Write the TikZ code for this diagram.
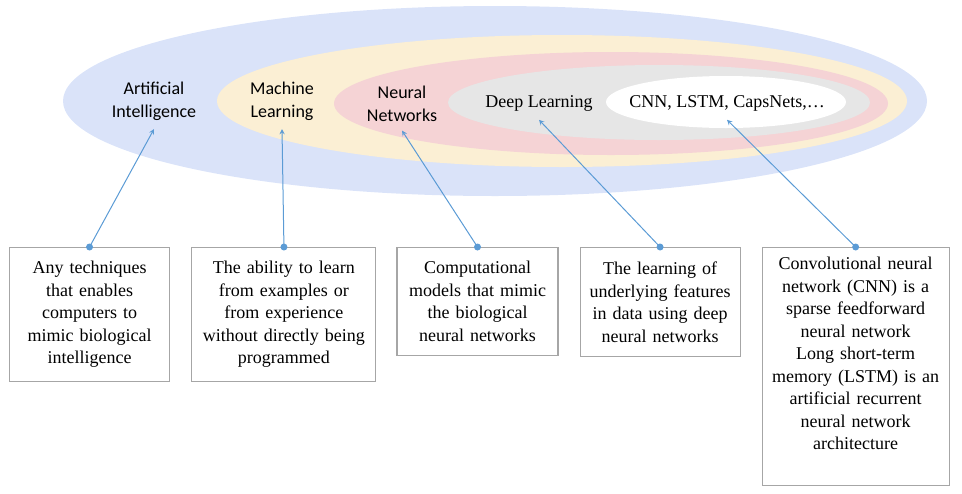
\documentclass[tikz,border=0pt]{standalone}
\usepackage{fontspec}
\setmainfont{Liberation Serif}
\newfontfamily\labelsans{Carlito}
\usetikzlibrary{arrows,positioning}
\tikzset{>=stealth}
\definecolor{aiblue}{HTML}{DAE3F9}
\definecolor{mlyellow}{HTML}{FBEFD4}
\definecolor{nnpink}{HTML}{F5D3D5}
\definecolor{dlgrey}{HTML}{E6E6E6}
\definecolor{linkblue}{HTML}{5B9BD5}
\definecolor{boxgrey}{HTML}{A6A6A6}
\tikzset{
  area/.style={align=center, inner sep=6.5pt, font=\labelsans\fontsize{13.5}{17}\selectfont},
  serifarea/.style={area, font=\fontsize{13.5}{17}\selectfont},
  textbox/.style 2 args={draw=boxgrey, line width=0.8pt, align=center, inner xsep=2pt,
    text width=#1, minimum height=#2, anchor=north west, font=\fontsize{13.5}{16.9}\selectfont},
  link/.style={->, draw=linkblue, line width=0.75pt},
}

\begin{document}
\begin{tikzpicture}[x=0.75pt,y=-0.75pt]
\useasboundingbox (0,0) rectangle (962,493);

\fill[aiblue] (495,101) ellipse [x radius=432, y radius=95];
\fill[mlyellow] (562,101) ellipse [x radius=345, y radius=66];
\fill[nnpink] (611,103.5) ellipse [x radius=277, y radius=51.5];
\fill[dlgrey] (659,102.5) ellipse [x radius=211, y radius=37.5];
\fill[white] (726,102) ellipse [x radius=120, y radius=26];

\fill node[area] (ai) at (154,101) {Artificial\\Intelligence};
\fill node[area] (ml) at (282,101) {Machine\\Learning};
\fill node[area] (nn) at (402,104) {Neural\\Networks};
\fill node[serifarea] (dl) at (539,103) {Deep Learning};
\fill node[serifarea] (cnn) at (727,103) {CNN, LSTM, CapsNets,\dots};

\fill node[textbox={116pt}{100.5pt}] (ai-box) at (9,247)
  {Any techniques\\that enables\\computers to\\mimic biological\\intelligence};
\fill node[textbox={134pt}{100.5pt}, right=16pt of ai-box.north east, anchor=north west] (ml-box)
  {The ability to learn\\from examples or\\from experience\\without directly being\\programmed};
\fill node[textbox={116.75pt}{81pt}, right=15pt of ml-box.north east, anchor=north west] (nn-box)
  {Computational\\models that mimic\\the biological\\neural networks};
\fill node[textbox={116pt}{81.75pt}, right=15.75pt of nn-box.north east, anchor=north west] (dl-box)
  {The learning of\\underlying features\\in data using deep\\neural networks};
\fill node[textbox={136.25pt}{178.5pt}, right=15.75pt of dl-box.north east, anchor=north west] (cnn-box)
  {Convolutional neural\\network (CNN) is a\\sparse feedforward\\neural network\\Long short-term\\memory (LSTM) is an\\artificial recurrent\\neural network\\architecture\\[2.6pt]\mbox{}};

\draw[link] (ai-box.north) -- (ai.south);
\draw[link] (ml-box.north) -- (ml.south);
\draw[link] (nn-box.north) -- (nn.south);
\draw[link] (dl-box.north) -- (dl.south);
\draw[link] (cnn-box.north) -- (cnn.south);

\fill[linkblue] (ai-box.north) circle (3.5);
\fill[linkblue] (ml-box.north) circle (3.5);
\fill[linkblue] (nn-box.north) circle (3.5);
\fill[linkblue] (dl-box.north) circle (3.5);
\fill[linkblue] (cnn-box.north) circle (3.5);
\end{tikzpicture}
\end{document}
